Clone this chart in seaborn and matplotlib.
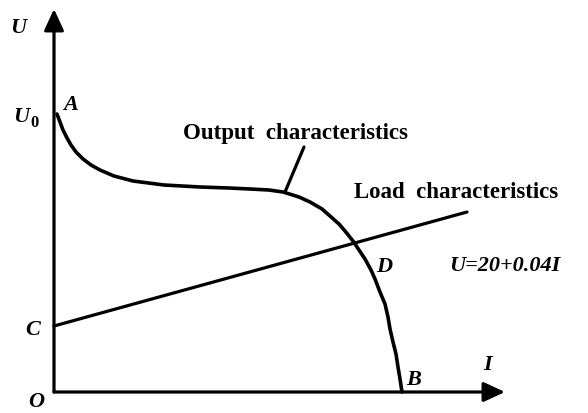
import matplotlib
matplotlib.use("Agg")
import matplotlib.pyplot as plt
import seaborn as sns
import pandas as pd

# output characteristic (I, U), arbitrary units
out_i = [3, 6, 9, 13, 17, 22, 29, 37, 46, 60, 79, 110, 146, 175, 196, 215, 229, 245, 256, 268, 276, 285,
         291, 299, 305, 311, 317, 321, 326, 331, 334, 336, 339, 342, 344, 346, 348]
out_u = [278, 270, 262, 254, 247, 240, 233, 227, 222, 216, 211, 207, 205, 204, 203, 202, 200, 195, 190, 183, 176, 168,
         161, 151, 142, 133, 122, 113, 100, 88, 75, 63, 50, 38, 25, 13, 0]

# load characteristic U = 20 + 0.04 I (drawn as straight line)
load_i = [0, 413]
load_u = [66, 180]

sns.set_style("white")
plt.rcParams['font.family'] = ['Liberation Serif', 'DejaVu Serif']
plt.rcParams['text.color'] = 'black'

fig = plt.figure(figsize=(5.88, 4.14), dpi=100)
ax = fig.add_axes([0, 0, 1, 1])
ax.set_xlim(-54, 534)
ax.set_ylim(-21, 393)
ax.axis('off')

df_out = pd.DataFrame({'I': out_i, 'U': out_u})
df_load = pd.DataFrame({'I': load_i, 'U': load_u})
sns.lineplot(data=df_out, x='I', y='U', ax=ax, color='black', lw=2.6, sort=False)
sns.lineplot(data=df_load, x='I', y='U', ax=ax, color='black', lw=2.3, sort=False)

# axes with arrows
arr = dict(arrowstyle='-|>,head_length=13,head_width=6', mutation_scale=1, color='black', lw=2.3, shrinkA=0, shrinkB=0)
ax.annotate('', xy=(0, 383), xytext=(0, 0), arrowprops=arr)
ax.annotate('', xy=(451, 0), xytext=(0, 0), arrowprops=arr)

# leader line to output curve
ax.plot([250, 231], [245, 200], color='black', lw=2.3)

lab = dict(fontsize=16, fontweight='bold', style='italic', ha='center', va='center', color='black')
ax.text(-36, 365, 'U', **lab)
ax.text(-33, 276, 'U', **lab)
ax.text(-19, 270, '0', fontsize=12, fontweight='bold', ha='center', va='center', color='black')
ax.text(17, 288, 'A', **lab)
ax.text(-21, 63, 'C', **lab)
ax.text(-18, -9, 'O', **lab)
ax.text(330, 126, 'D', **lab)
ax.text(360, 13, 'B', **lab)
ax.text(434, 28, 'I', **lab)

txt = dict(fontsize=16.5, fontweight='bold', ha='center', va='center', color='black')
ax.text(241, 260, 'Output  characteristics', **txt)
ax.text(402, 200, 'Load  characteristics', **txt)
ax.text(451, 127, 'U=20+0.04I', fontsize=16, fontweight='bold', style='italic', ha='center', va='center', color='black')

fig.savefig('out.png', dpi=100)
